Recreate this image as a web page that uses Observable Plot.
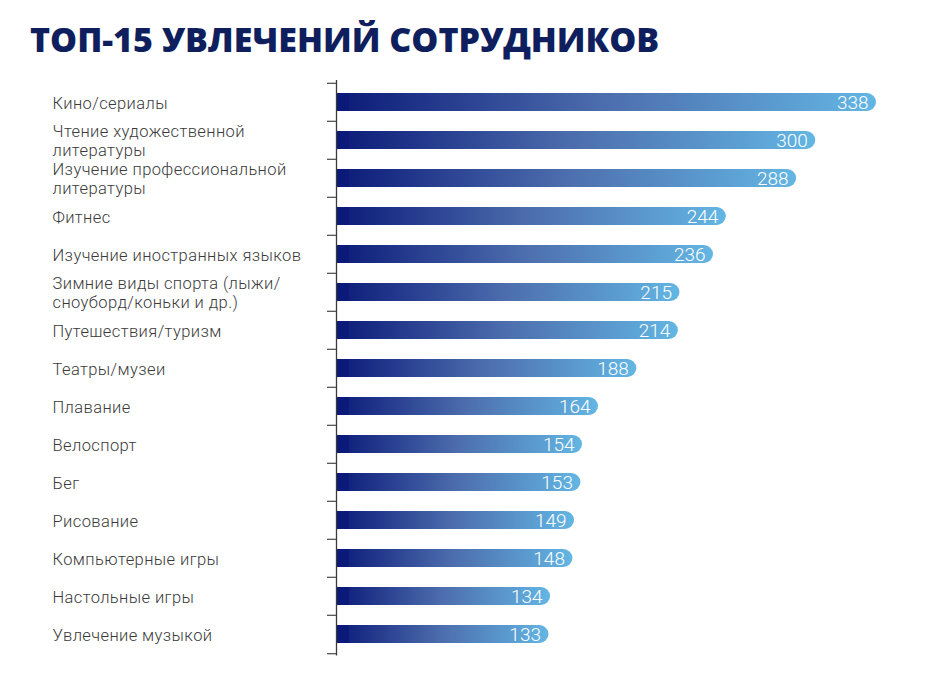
<!DOCTYPE html>
<html>
<head>
<meta charset="utf-8">
<script src="https://cdn.jsdelivr.net/npm/d3@7"></script>
<script src="https://cdn.jsdelivr.net/npm/@observablehq/plot@0.6"></script>
<style>
  body { margin: 0; background: #fff; }
  #wrap { position: relative; width: 930px; height: 675px; }
  #title { position: absolute; left: 30px; top: 22px; line-height: 34px; font-family: "Open Sans", sans-serif; font-weight: 800; font-size: 34px; color: #0f1f5e; white-space: nowrap; }
  #chart { position: absolute; left: 0; top: 70px; }
</style>
</head>
<body>
<div id="wrap">
  <div id="title">ТОП-15 УВЛЕЧЕНИЙ СОТРУДНИКОВ</div>
  <div id="chart"></div>
</div>
<script>
const categories = [
  "Кино/сериалы",
  "Чтение художественной\nлитературы",
  "Изучение профессиональной\nлитературы",
  "Фитнес",
  "Изучение иностранных языков",
  "Зимние виды спорта (лыжи/\nсноуборд/коньки и др.)",
  "Путешествия/туризм",
  "Театры/музеи",
  "Плавание",
  "Велоспорт",
  "Бег",
  "Рисование",
  "Компьютерные игры",
  "Настольные игры",
  "Увлечение музыкой"
];
const values = [338, 300, 288, 244, 236, 215, 214, 188, 164, 154, 153, 149, 148, 134, 133];

const data = categories.map((name, i) => ({name, value: values[i]}));

const W = 930, H = 605, mt = 10, mb = 19.5, ml = 336, mr = 54;
const step = (H - mt - mb) / categories.length;
const startColor = "#0b1a78";

const chart = Plot.plot({
  width: W,
  height: H,
  marginTop: mt,
  marginBottom: mb,
  marginLeft: ml,
  marginRight: mr,
  x: {domain: [0, 338], axis: null},
  y: {domain: categories, axis: null, paddingInner: 0.52, paddingOuter: 0.26},
  style: {fontFamily: "Roboto, sans-serif", background: "#fff"},
  marks: [
    Plot.barX(data, {y: "name", x: "value", fill: "url(#barGrad)", rx: 9.2}),
    Plot.barX(data, {y: "name", x1: 0, x2: 8, fill: startColor}),
    Plot.ruleX([0], {stroke: "#3a3a3a", strokeWidth: 1.3}),
    Plot.ruleY(categories, {y: d => d, x1: 0, x2: 0, insetLeft: -9, dy: -step / 2, stroke: "#555", strokeWidth: 1.3}),
    Plot.ruleY(categories.slice(-1), {y: d => d, x1: 0, x2: 0, insetLeft: -9, dy: step / 2, stroke: "#555", strokeWidth: 1.3}),
    Plot.text(data, {y: "name", text: "name", frameAnchor: "left", dx: 52 - ml, textAnchor: "start",
      fontSize: 16.5, fontWeight: 300, lineHeight: 1.16, fill: "#3a3a3a"}),
    Plot.text(data, {y: "name", x: "value", text: d => String(d.value), textAnchor: "end", dx: -8,
      fill: "#fff", fontSize: 19, fontWeight: 300})
  ]
});

const svg = d3.select(chart);
const defs = svg.insert("defs", ":first-child");
const g = defs.append("linearGradient").attr("id", "barGrad").attr("x1", "0").attr("x2", "1").attr("y1", "0").attr("y2", "0");
g.append("stop").attr("offset", "0%").attr("stop-color", startColor);
g.append("stop").attr("offset", "50%").attr("stop-color", "#4d6eae");
g.append("stop").attr("offset", "100%").attr("stop-color", "#63b6e3");

// slightly wider tracking for category labels (first text mark)
const textGroups = svg.selectAll("g[aria-label='text']").nodes();
if (textGroups.length) d3.select(textGroups[0]).attr("letter-spacing", "0.4px");

document.getElementById("chart").appendChild(chart);
</script>
</body>
</html>
